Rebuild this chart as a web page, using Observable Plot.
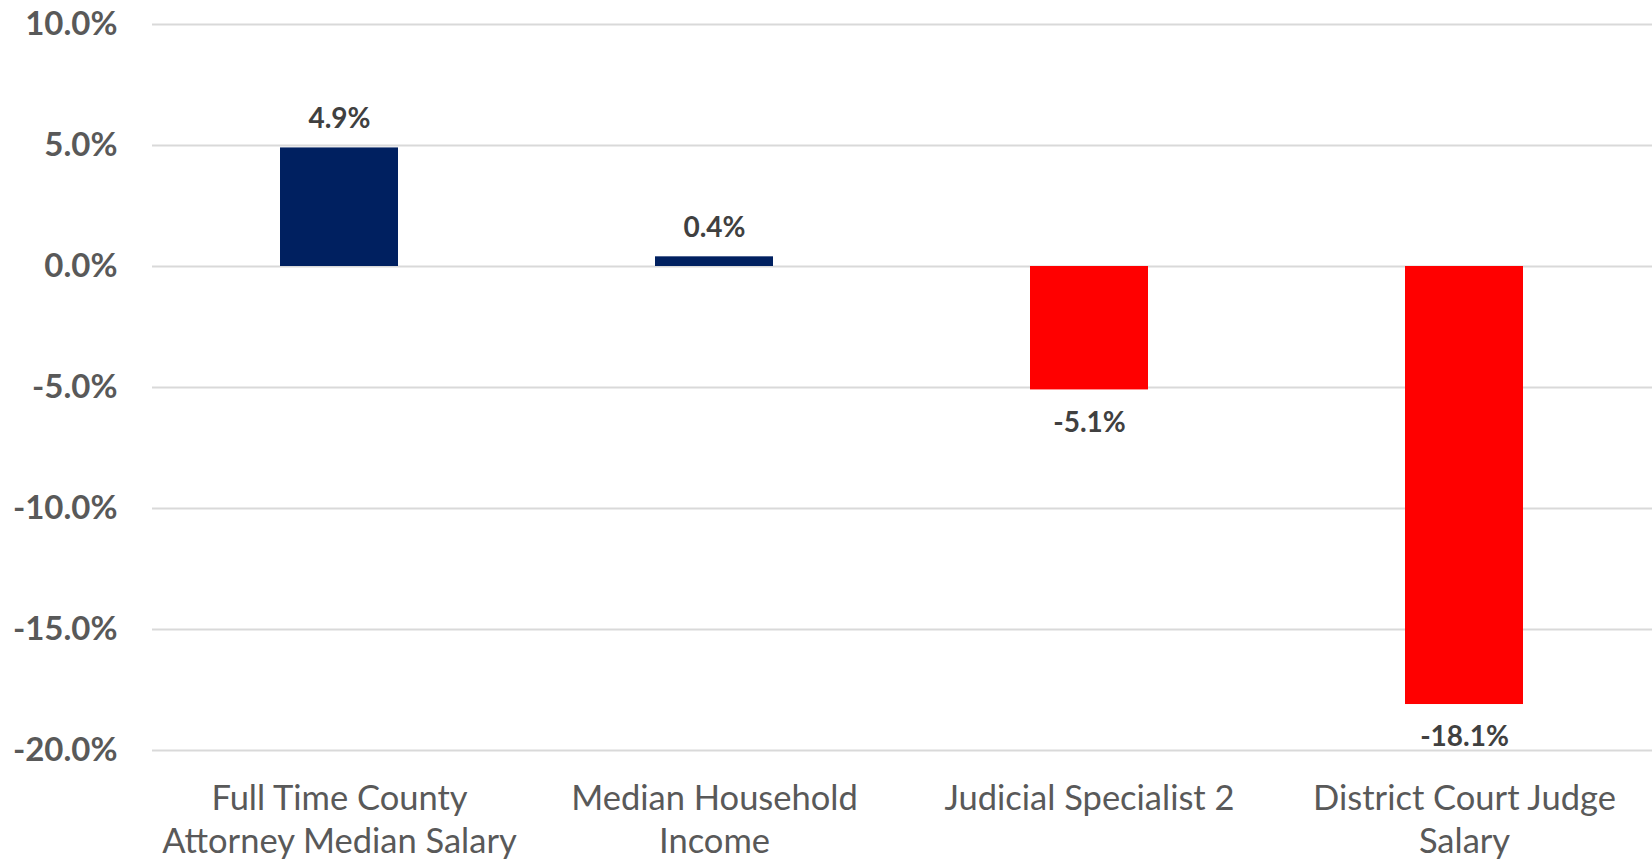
<!DOCTYPE html>
<html>
<head>
<meta charset="utf-8">
<script src="https://cdn.jsdelivr.net/npm/d3@7"></script>
<script src="https://cdn.jsdelivr.net/npm/@observablehq/plot@0.6"></script>
<style>
  html, body { margin: 0; padding: 0; background: #ffffff; }
  #chart svg { display: block; }
</style>
</head>
<body>
<div id="chart"></div>
<script>
const categories = [
  "Full Time County\nAttorney Median Salary",
  "Median Household\nIncome",
  "Judicial Specialist 2",
  "District Court Judge\nSalary"
];
const values = [4.9, 0.4, -5.1, -18.1];
const yTicks = [10, 5, 0, -5, -10, -15, -20];

const data = categories.map((c, i) => ({category: c, value: values[i]}));
const fmt = d => d.toFixed(1) + "%";

const chart = Plot.plot({
  width: 1652,
  height: 861,
  marginLeft: 152,
  marginRight: 0,
  marginTop: 24,
  marginBottom: 111,
  style: {fontFamily: "Lato, 'Open Sans', sans-serif", background: "#ffffff"},
  x: {domain: categories, paddingInner: 0.685, paddingOuter: 0.3425, label: null},
  y: {domain: [-20, 10], label: null},
  marks: [
    Plot.gridY(yTicks, {stroke: "#d9d9d9", strokeOpacity: 1, strokeWidth: 2}),
    Plot.barY(data, {
      x: "category",
      y: "value",
      fill: d => d.value >= 0 ? "#002060" : "#FF0000"
    }),
    Plot.text(data.filter(d => d.value >= 0), {
      x: "category", y: "value", text: d => fmt(d.value),
      dy: -29, fontSize: 28, fontWeight: "bold", fill: "#404040"
    }),
    Plot.text(data.filter(d => d.value < 0), {
      x: "category", y: "value", text: d => fmt(d.value),
      dy: 33, fontSize: 28, fontWeight: "bold", fill: "#404040"
    }),
    Plot.axisY(yTicks, {
      tickSize: 0, tickPadding: 35, tickFormat: fmt,
      fontSize: 33, fontWeight: "bold", fill: "#595959", label: null
    }),
    Plot.axisX({
      tickSize: 0, tickPadding: 28, fontSize: 34.5, lineHeight: 1.27,
      fill: "#595959", label: null
    })
  ]
});
document.getElementById("chart").appendChild(chart);
</script>
</body>
</html>
